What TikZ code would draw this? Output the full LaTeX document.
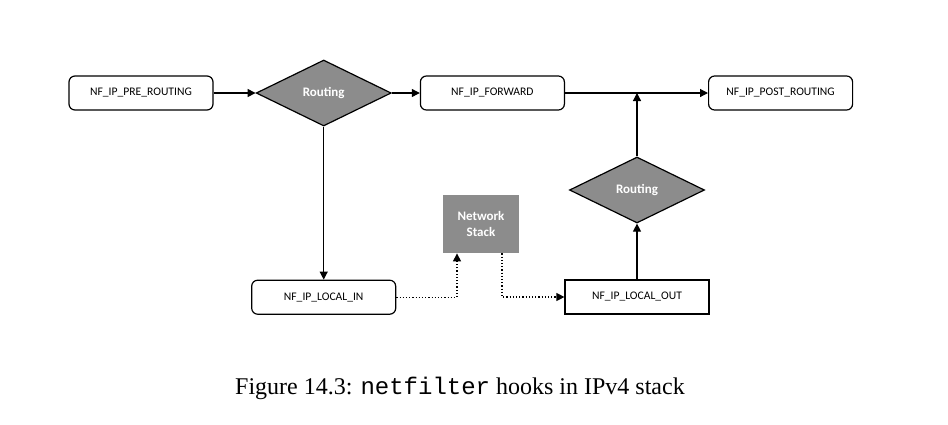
\documentclass[tikz,border=0pt]{standalone}
\usepackage{xcolor}
\usepackage{fontspec}
\setmainfont{Liberation Serif}
\setmonofont{Liberation Mono}
\newfontfamily\boxfont{Carlito}
\usepackage{tikz}
\usetikzlibrary{shapes.geometric, arrows.meta, positioning, calc}
\definecolor{hookgray}{HTML}{8C8C8C}

\begin{document}
\begin{tikzpicture}[
  x=0.5pt, y=-0.5pt,
  >={Triangle[length=4pt, width=4pt]},
  hookbox/.style={rectangle, rounded corners=3pt, draw=black, fill=white, line width=0.6pt, minimum width=72pt, minimum height=17pt, font=\boxfont\fontsize{5.8}{7}\selectfont},
  outbox/.style={hookbox, sharp corners},
  routediamond/.style={diamond, draw=black, fill=hookgray, line width=0.6pt, minimum width=67.5pt, minimum height=33pt, inner sep=0pt, text=white, font=\boxfont\bfseries\fontsize{6.5}{8}\selectfont},
  stackbox/.style={rectangle, fill=hookgray, minimum width=38pt, minimum height=29pt, align=center, text=white, font=\boxfont\bfseries\fontsize{6.5}{8}\selectfont},
  flow/.style={->, line width=0.6pt},
  dotflow/.style={flow, densely dotted}
]
  \useasboundingbox (0,0) rectangle (948,424);

  % upper row
  \node[hookbox] (pre) at (141,93) {NF\_IP\_PRE\_ROUTING};
  \node[routediamond, right=21pt of pre] (route1) {Routing};
  \node[hookbox, right=14pt of route1] (fwd) {NF\_IP\_FORWARD};
  \node[hookbox, right=71.5pt of fwd] (post) {NF\_IP\_POST\_ROUTING};

  % local path
  \node[hookbox, below=76.5pt of route1] (localin) {NF\_IP\_LOCAL\_IN};
  \node[stackbox] (stack) at (481,224) {Network\\Stack};
  \node[outbox] (localout) at (637,297) {NF\_IP\_LOCAL\_OUT};
  \node[routediamond] (route2) at (637,190) {Routing};
  \coordinate (join) at (route2 |- fwd);

  \draw[flow] (pre) -- (route1);
  \draw[flow] (route1) -- (fwd);
  \draw[flow] (fwd) -- (post);
  \draw[flow] (route1) -- (localin);
  \draw[dotflow] (localin.east) -| ([xshift=-12pt]stack.south);
  \draw[dotflow] ([xshift=10.5pt]stack.south) |- (localout.west);
  \draw[flow] (localout) -- (route2);
  \draw[flow] (route2) -- (join);

  \node[font=\fontsize{12}{14}\selectfont] (caption) at (460,388) {Figure 14.3: {\ttfamily netfilter} hooks in IPv4 stack};
\end{tikzpicture}
\end{document}
